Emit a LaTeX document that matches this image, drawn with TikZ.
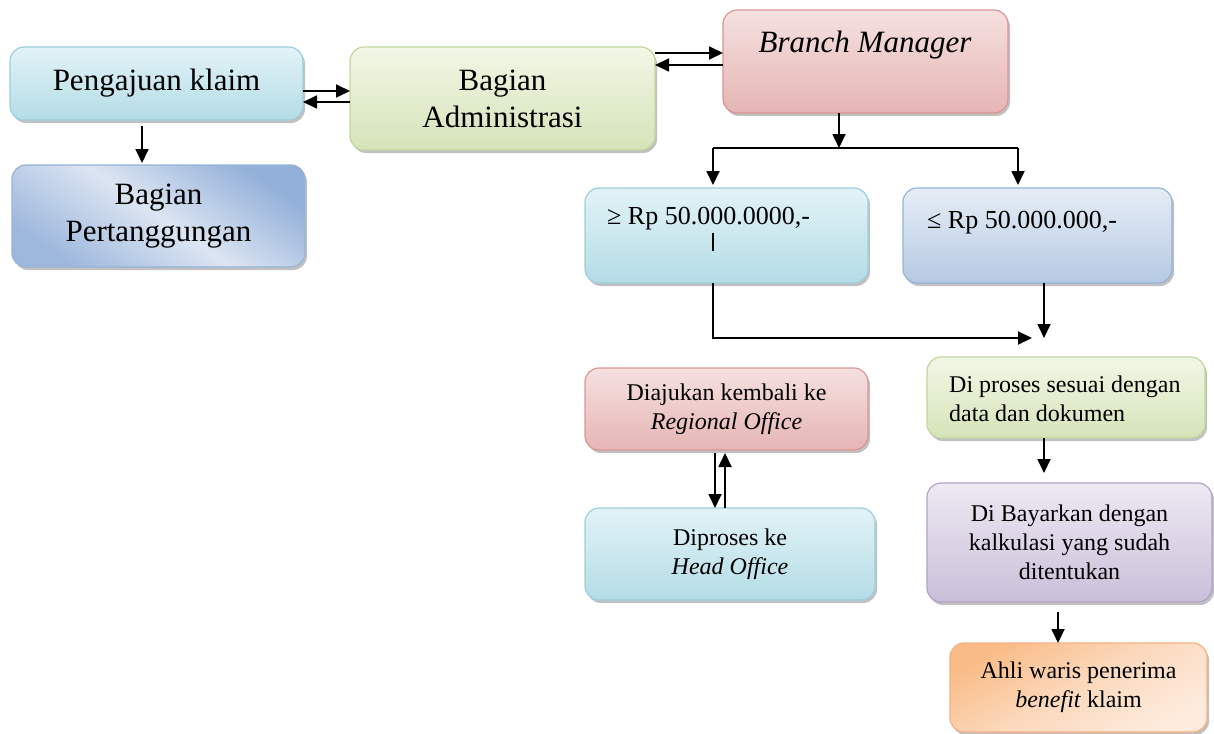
\documentclass[tikz,border=0pt]{standalone}
\usepackage{fontspec}
\setmainfont{Liberation Serif}
\usetikzlibrary{arrows.meta,shadows,calc}
\definecolor{cyT}{HTML}{E2F3F7}
\definecolor{cyB}{HTML}{B4DCE6}
\definecolor{cyD}{HTML}{9CCFDC}
\definecolor{grT}{HTML}{F2F7E6}
\definecolor{grB}{HTML}{D5E3B9}
\definecolor{grD}{HTML}{C3D69B}
\definecolor{rdT}{HTML}{F5E1E0}
\definecolor{rdB}{HTML}{E5B5B4}
\definecolor{rdD}{HTML}{D99694}
\definecolor{blT}{HTML}{E6EDF6}
\definecolor{blB}{HTML}{B6CAE3}
\definecolor{blD}{HTML}{95B3D7}
\definecolor{bdA}{HTML}{93B0D9}
\definecolor{bdM}{HTML}{DCE5F2}
\definecolor{puT}{HTML}{EEE9F3}
\definecolor{puB}{HTML}{CABFD9}
\definecolor{puD}{HTML}{B3A2C7}
\definecolor{orA}{HTML}{F9BC88}
\definecolor{orM}{HTML}{FCD9BD}
\definecolor{orB}{HTML}{FDEBDD}
\definecolor{orD}{HTML}{F4B183}
\tikzset{
  box/.style={rounded corners=14pt, line width=1.2pt, inner sep=0pt, outer sep=0pt,
    align=center, drop shadow={shadow xshift=2pt, shadow yshift=-3pt, opacity=0.35, fill=black!70}},
  bigtxt/.style={font=\fontsize{31}{37}\selectfont},
  smalltxt/.style={font=\fontsize{24}{29}\selectfont},
  cyanbox/.style={box, draw=cyD, top color=cyT, bottom color=cyB},
  greenbox/.style={box, draw=grD, top color=grT, bottom color=grB},
  redbox/.style={box, draw=rdD, top color=rdT, bottom color=rdB},
  bluebox/.style={box, draw=blD, top color=blT, bottom color=blB},
  purplebox/.style={box, draw=puD, top color=puT, bottom color=puB},
  arr/.style={line width=1.8pt, -{Triangle[length=14pt,width=13pt]}},
}
\begin{document}
\begin{tikzpicture}[x=1pt,y=-1pt]
\useasboundingbox (0,0) rectangle (1214,733);
% boxes
\node[cyanbox, bigtxt, minimum width=293, minimum height=73] (pk) at (156.5,83.5) {Pengajuan klaim};
\node[box, bigtxt, draw=blD, top color=bdA, bottom color=bdA!90!white, middle color=bdM, shading angle=-35,
      minimum width=293, minimum height=102] (pt) at (158.5,216) {Bagian\\Pertanggungan};
\node[greenbox, bigtxt, minimum width=305, minimum height=103] (adm) at (502.5,98.5) {Bagian\\Administrasi};
\node[redbox, minimum width=285, minimum height=103] (bm) at (865.5,61.5) {};
\node[font=\fontsize{31}{37}\selectfont\itshape] (bmt) at (865,45) {Branch Manager};
\node[cyanbox, minimum width=283, minimum height=95] (ge) at (726.5,235.5) {};
\node[anchor=west, font=\fontsize{26}{30}\selectfont, inner sep=0pt] (get) at (607,219) {≥ Rp 50.000.0000,-};
\draw[line width=1.3pt] (ge.center -| 713,0) ++(0,-3) coordinate (barT) -- ++(0,18);
\node[bluebox, minimum width=269, minimum height=95] (le) at (1037.5,235.5) {};
\node[anchor=west, font=\fontsize{26}{30}\selectfont, inner sep=0pt] (let) at (927,223) {≤ Rp 50.000.000,-};
\node[redbox, smalltxt, minimum width=283, minimum height=82] (dk) at (726.5,409) {Diajukan kembali ke\\\textit{Regional Office}};
\node[cyanbox, smalltxt, minimum width=290, minimum height=92] (dp) at (730,554) {Diproses ke\\\textit{Head Office}};
\node[greenbox, minimum width=278, minimum height=81] (dps) at (1066,397.5) {};
\node[anchor=west, smalltxt, align=left, inner sep=0pt] (dpst) at (949,399) {Di proses sesuai dengan\\data dan dokumen};
\node[purplebox, smalltxt, minimum width=285, minimum height=119] (dby) at (1069.5,542.5) {Di Bayarkan dengan\\kalkulasi yang sudah\\ditentukan};
\node[box, smalltxt, draw=orD, top color=orA, bottom color=orB, middle color=orM, shading angle=30,
      minimum width=257, minimum height=89] (ahli) at (1078.5,687.5) {Ahli waris penerima\\\textit{benefit} klaim};
% connectors
\draw[arr] (pk.east |- 0,91) -- (adm.west |- 0,91);
\draw[arr] (adm.west |- 0,102) -- (pk.east |- 0,102);
\draw[arr, shorten <=6pt, shorten >=2pt] (pk.south -| 142,0) -- (pt.north -| 142,0);
\draw[arr] (adm.east |- 0,53) -- (bm.west |- 0,53);
\draw[arr] (bm.west |- 0,65) -- (adm.east |- 0,65);
\coordinate (split) at (839,148);
\draw[arr] (bm.south -| split) -- (split);
\draw[line width=1.8pt] (split -| 713,0) -- (split -| 1018,0);
\draw[arr, shorten >=3pt] (split -| 713,0) -- (ge.north -| 713,0);
\draw[arr, shorten >=3pt] (split -| 1018,0) -- (le.north -| 1018,0);
\coordinate (jn) at (1044,338);
\draw[arr] (ge.south -| 713,0) |- ([xshift=-12pt]jn);
\draw[arr] (le.south -| jn) -- (jn);
\draw[arr, shorten >=10pt] (dps.south -| 1044,0) -- (dby.north -| 1044,0);
\draw[arr, shorten <=10pt] (dby.south -| 1058,0) -- (ahli.north -| 1058,0);
\draw[arr, shorten <=3pt] (dk.south -| 715,0) -- (dp.north -| 715,0);
\draw[arr, shorten >=3pt] (dp.north -| 725,0) -- (dk.south -| 725,0);
\end{tikzpicture}
\end{document}
